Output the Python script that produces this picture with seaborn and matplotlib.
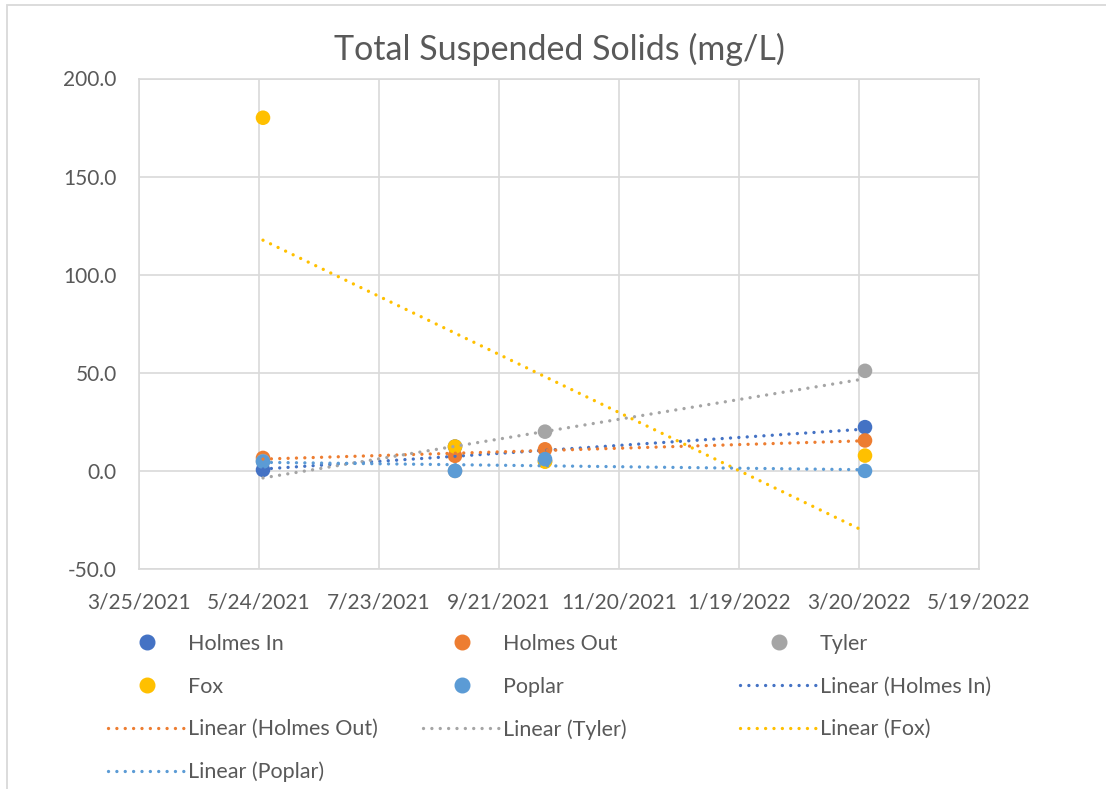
import numpy as np
import pandas as pd
import seaborn as sns
import matplotlib
matplotlib.use("Agg")
import matplotlib.pyplot as plt
import matplotlib.dates as mdates
from matplotlib.lines import Line2D
from matplotlib.patches import Rectangle

# sampling dates and values (mg/L)
dates = ["2021-05-26", "2021-08-30", "2021-10-14", "2022-03-23"]
holmes_in = [0.5, 12.4, 5.0, 22.3]
holmes_out = [6.6, 7.7, 11.0, 15.5]
tyler = [5.0, 0.0, 20.0, 51.0]
fox = [180.0, 12.4, 4.7, 7.8]
poplar = [4.7, 0.0, 6.0, 0.0]

series_names = ["Holmes In", "Holmes Out", "Tyler", "Fox", "Poplar"]
colors = ["#4472C4", "#ED7D31", "#A5A5A5", "#FFC000", "#5B9BD5"]

x_ticks = ["2021-03-25", "2021-05-24", "2021-07-23", "2021-09-21",
           "2021-11-20", "2022-01-19", "2022-03-20", "2022-05-19"]
x_tick_labels = ["3/25/2021", "5/24/2021", "7/23/2021", "9/21/2021",
                 "11/20/2021", "1/19/2022", "3/20/2022", "5/19/2022"]
y_ticks = [-50, 0, 50, 100, 150, 200]

values = [holmes_in, holmes_out, tyler, fox, poplar]
rows = []
for name, vals in zip(series_names, values):
    for d, v in zip(dates, vals):
        rows.append({"site": name, "date": mdates.date2num(pd.Timestamp(d)), "tss": v})
df = pd.DataFrame(rows)

sns.set_style("white")
plt.rcParams["font.family"] = ["Lato", "DejaVu Sans"]
grey_txt = "#595959"
grid_c = "#D9D9D9"

fig = plt.figure(figsize=(11.06, 7.89), dpi=100)
ax = fig.add_axes([139 / 1106, 1 - 569 / 789, 840 / 1106, 490.5 / 789])

pal = dict(zip(series_names, colors))
sns.scatterplot(data=df, x="date", y="tss", hue="site", palette=pal, s=110,
                edgecolor="none", legend=False, ax=ax, zorder=3)

dot = (0, (0.01, 2.5))
for name, c in zip(series_names, colors):
    sub = df[df["site"] == name]
    sns.regplot(data=sub, x="date", y="tss", scatter=False, ci=None, truncate=True, ax=ax,
                line_kws=dict(color=c, lw=2.4, ls=dot, dash_capstyle="round", zorder=4))

xt = [mdates.date2num(pd.Timestamp(d)) for d in x_ticks]
ax.set_xlim(xt[0], xt[-1])
ax.set_ylim(-50, 200)
ax.set_xticks(xt)
ax.set_xticklabels(x_tick_labels)
ax.set_yticks(y_ticks)
ax.set_yticklabels([f"{v:.1f}" for v in y_ticks])
ax.set_xlabel("")
ax.set_ylabel("")
ax.grid(True, color=grid_c, lw=1.2)
ax.set_axisbelow(True)
for s in ax.spines.values():
    s.set_color(grid_c)
    s.set_linewidth(1.2)
ax.tick_params(axis="both", length=0, labelsize=15, labelcolor=grey_txt)
ax.tick_params(axis="y", pad=16)
ax.tick_params(axis="x", pad=17)

fig.text(559 / 1106, 1 - 49 / 789, "Total Suspended Solids (mg/L)", ha="center", va="center",
         fontsize=24.5, color=grey_txt)

# chart border (only left and top edges show in the crop)
fig.patches.append(Rectangle((7 / 1106, -0.1), 1.2, 1.1 - 5.5 / 789, transform=fig.transFigure,
                             fill=False, edgecolor=grid_c, lw=1.3))

# legend laid out row by row like Excel: three single-column legends
def mk_pt(c):
    return Line2D([], [], ls="none", marker="o", ms=10.5, mfc=c, mec=c)

def mk_ln(c):
    return Line2D([], [], color=c, lw=2.4, ls=dot, dash_capstyle="round")

entries = [(mk_pt(c), n) for n, c in zip(series_names, colors)]
entries += [(mk_ln(c), f"Linear ({n})") for n, c in zip(series_names, colors)]

cols = [[0, 3, 6, 9], [1, 4, 7], [2, 5, 8]]
col_x = [108, 423, 740]
for idx, x0 in zip(cols, col_x):
    leg = fig.legend([entries[i][0] for i in idx], [entries[i][1] for i in idx],
                     loc="upper left", bbox_to_anchor=(x0 / 1106, 1 - 634 / 789),
                     frameon=False, fontsize=15.5, handlelength=3.6, handletextpad=0.12,
                     labelspacing=1.05, borderpad=0, borderaxespad=0)
    for t in leg.get_texts():
        t.set_color(grey_txt)

fig.savefig("out.png", dpi=100)
